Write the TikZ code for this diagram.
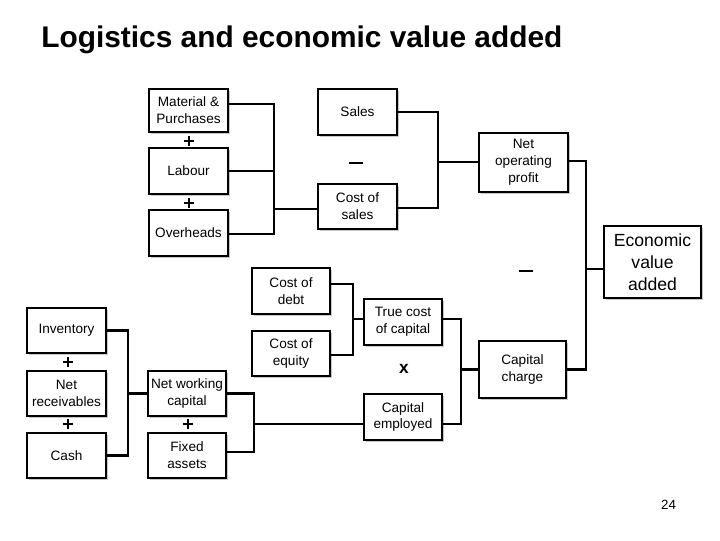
\documentclass[tikz,border=0pt]{standalone}
\usepackage{fontspec}
\setmainfont{Liberation Sans}
\usetikzlibrary{shadows}
\begin{document}
\begin{tikzpicture}[x=0.75pt,y=-0.75pt,
  box/.style={draw=black, line width=0.8pt, fill=white, inner sep=0pt, align=center,
    font=\fontsize{10.2pt}{12.6pt}\selectfont,
    drop shadow={shadow xshift=1.6pt, shadow yshift=-1.6pt, fill=black!22, opacity=1}},
  sz/.style 2 args={minimum width=#1*0.75pt, minimum height=#2*0.75pt},
  conn/.style={line width=2pt, line join=miter},
  sign/.style={line width=1.8pt},
  title/.style={font=\fontsize{22.4pt}{26pt}\selectfont\bfseries, anchor=base west, inner sep=0pt},
]
\useasboundingbox (0,0) rectangle (720,540);

\node[title] (ttl) at (41,47) {Logistics and economic value added};
\node[font=\fontsize{10pt}{12pt}\selectfont, anchor=base, inner sep=0pt] (pg) at (668.5,509) {24};

% boxes
\node[box, sz={79}{43}] (mat) at (188.5,110.5) {Material \&\\Purchases};
\node[box, sz={79}{46}] (lab) at (188.5,171) {Labour};
\node[box, sz={79}{46}] (ovh) at (188.5,233) {Overheads};
\node[box, sz={79}{46}] (sales) at (357.5,112) {Sales};
\node[box, sz={79}{45}] (cos) at (357.5,206.5) {Cost of\\sales};
\node[box, sz={89}{59}] (nop) at (523.5,162.5) {Net\\operating\\profit};
\node[box, sz={97}{72}, font=\fontsize{13.2pt}{16.5pt}\selectfont] (eva) at (652.5,262) {Economic\\value\\added};
\node[box, sz={78}{46}] (debt) at (291,291) {Cost of\\debt};
\node[box, sz={78}{45}] (equity) at (291,353.5) {Cost of\\equity};
\node[box, sz={78}{46}] (tcc) at (403,322) {True cost\\of capital};
\node[box, sz={78}{46}] (ce) at (403,417) {Capital\\employed};
\node[box, sz={87}{57}] (cc) at (522.5,369.5) {Capital\\charge};
\node[box, sz={79}{45}] (inv) at (66.5,330.5) {Inventory};
\node[box, sz={79}{45}] (nr) at (66.5,393.5) {Net\\receivables};
\node[box, sz={79}{45}] (cash) at (66.5,455.5) {Cash};
\node[box, sz={78}{45}] (nwc) at (187,393.5) {Net working\\capital};
\node[box, sz={78}{45}] (fa) at (187,455.5) {Fixed\\assets};

% junctions
\coordinate (j1) at (274,209);
\coordinate (j2) at (438,162);
\coordinate (j3) at (586,269);
\coordinate (j4) at (353,319);
\coordinate (j5) at (461,369.5);
\coordinate (j6) at (254,424);
\coordinate (j7) at (128,393.5);

% connectors
\draw[conn] ([yshift=4.9pt]mat.east) -| (j1) |- ([yshift=-0.75pt]ovh.east);
\draw[conn] (lab.east) -- (lab.east -| j1);
\draw[conn] (j1) -- (j1 -| cos.west);

\draw[conn] (sales.east) -| (j2) |- ([yshift=-1.1pt]cos.east);
\draw[conn] (j2) -- (j2 -| nop.west);

\draw[conn] ([yshift=1.1pt]nop.east) -| (j3) |- (cc.east);
\draw[conn] (j3) -- (j3 -| eva.west);

\draw[conn] ([yshift=5.25pt]debt.east) -| (j4) |- ([yshift=-1.1pt]equity.east);
\draw[conn] (j4) -- (j4 -| tcc.west);

\draw[conn] ([yshift=2.25pt]tcc.east) -| (j5) |- ([yshift=-5.25pt]ce.east);
\draw[conn] (j5) -- (j5 -| cc.west);

\draw[conn] (nwc.east) -| (j6) |- ([yshift=2.6pt]fa.east);
\draw[conn] (j6) -- (j6 -| ce.west);

\draw[conn] (inv.east) -| (j7) |- (cash.east);
\draw[conn] (j7) -- (j7 -| nwc.west);

% signs
\coordinate (p1) at (189,141);
\coordinate (p2) at (189,203);
\coordinate (p3) at (68,362);
\coordinate (p4) at (68,424);
\coordinate (p5) at (188,424);
\draw[sign] ([xshift=-3.9pt]p1) -- ([xshift=3.9pt]p1) ([yshift=-3.9pt]p1) -- ([yshift=3.9pt]p1);
\draw[sign] ([xshift=-3.9pt]p2) -- ([xshift=3.9pt]p2) ([yshift=-3.9pt]p2) -- ([yshift=3.9pt]p2);
\draw[sign] ([xshift=-3.9pt]p3) -- ([xshift=3.9pt]p3) ([yshift=-3.9pt]p3) -- ([yshift=3.9pt]p3);
\draw[sign] ([xshift=-3.9pt]p4) -- ([xshift=3.9pt]p4) ([yshift=-3.9pt]p4) -- ([yshift=3.9pt]p4);
\draw[sign] ([xshift=-3.9pt]p5) -- ([xshift=3.9pt]p5) ([yshift=-3.9pt]p5) -- ([yshift=3.9pt]p5);
\coordinate (m1) at (356,163);
\coordinate (m2) at (526,271);
\draw[sign] ([xshift=-5.2pt]m1) -- ([xshift=5.2pt]m1);
\draw[sign] ([xshift=-5.2pt]m2) -- ([xshift=5.2pt]m2);
\node[font=\fontsize{13pt}{15pt}\selectfont\bfseries, inner sep=0pt] (times) at (404,369) {x};
\end{tikzpicture}
\end{document}
